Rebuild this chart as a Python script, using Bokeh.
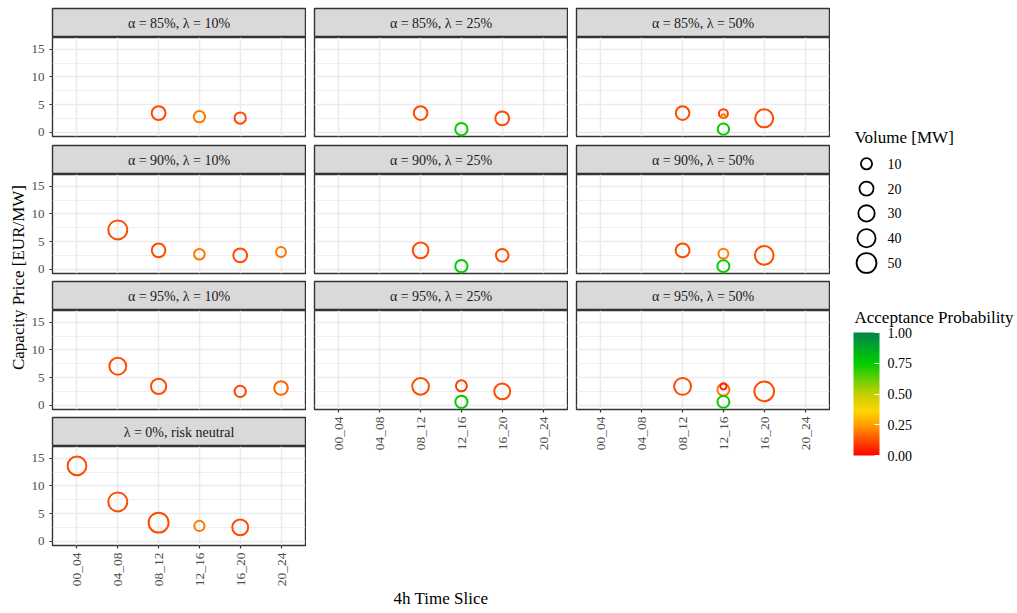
import math
import numpy as np
from bokeh.plotting import figure
from bokeh.layouts import row, column
from bokeh.models import (Range1d, FixedTicker, Label, Grid, ColumnDataSource,
                          LinearColorMapper, ColorBar, PrintfTickFormatter)
from bokeh.transform import linear_cmap
from bokeh.embed import file_html
from bokeh.resources import INLINE
from bokeh.core.properties import value

# ---------------- data ----------------
time_slices = ["00_04", "04_08", "08_12", "12_16", "16_20", "20_24"]
facet_labels = ["α = 85%, λ = 10%", "α = 85%, λ = 25%", "α = 85%, λ = 50%",
                "α = 90%, λ = 10%", "α = 90%, λ = 25%", "α = 90%, λ = 50%",
                "α = 95%, λ = 10%", "α = 95%, λ = 25%", "α = 95%, λ = 50%",
                "λ = 0%, risk neutral"]

bid_facet = [0, 0, 0,
             1, 1, 1,
             2, 2, 2, 2, 2,
             3, 3, 3, 3, 3,
             4, 4, 4,
             5, 5, 5, 5,
             6, 6, 6, 6,
             7, 7, 7, 7,
             8, 8, 8, 8, 8,
             9, 9, 9, 9, 9]
bid_slice = ["08_12", "12_16", "16_20",
             "08_12", "12_16", "16_20",
             "08_12", "12_16", "12_16", "12_16", "16_20",
             "04_08", "08_12", "12_16", "16_20", "20_24",
             "08_12", "12_16", "16_20",
             "08_12", "12_16", "12_16", "16_20",
             "04_08", "08_12", "16_20", "20_24",
             "08_12", "12_16", "12_16", "16_20",
             "08_12", "12_16", "12_16", "12_16", "16_20",
             "00_04", "04_08", "08_12", "12_16", "16_20"]
bid_price = [3.45, 2.8, 2.55,
             3.45, 0.55, 2.5,
             3.45, 3.35, 2.9, 0.55, 2.5,
             7.1, 3.4, 2.7, 2.5, 3.1,
             3.4, 0.55, 2.5,
             3.4, 2.8, 0.55, 2.5,
             7.05, 3.4, 2.5, 3.1,
             3.4, 3.5, 0.6, 2.5,
             3.4, 2.8, 3.4, 0.6, 2.5,
             13.6, 7.1, 3.35, 2.75, 2.5]
bid_volume = [20, 11, 11,
              19, 14, 20,
              19, 5, 0, 11, 40,
              46, 19, 9, 20, 7,
              28, 14, 15,
              20, 7, 13, 44,
              34, 26, 11, 19,
              33, 10, 14, 29,
              34, 13, 1, 13, 50,
              44, 46, 52, 8, 29]
bid_prob = [0.12, 0.19, 0.12,
            0.12, 0.74, 0.12,
            0.12, 0.10, 0.19, 0.74, 0.12,
            0.12, 0.12, 0.19, 0.12, 0.18,
            0.12, 0.74, 0.12,
            0.12, 0.19, 0.74, 0.12,
            0.12, 0.12, 0.11, 0.16,
            0.12, 0.10, 0.74, 0.12,
            0.12, 0.18, 0.07, 0.74, 0.12,
            0.12, 0.12, 0.12, 0.19, 0.12]

price_ticks = [0, 5, 10, 15]
price_minor = [2.5, 7.5, 12.5]
volume_breaks = [10, 20, 30, 40, 50]
prob_breaks = [0.0, 0.25, 0.5, 0.75, 1.0]

# ---------------- style ----------------
SERIF = "Liberation Serif"
FRAME_W, FRAME_H, STRIP_H = 253, 99, 29
AXIS_BOTTOM = 44
YLAB_W = 27
LEFT1 = 25
TOTAL_H = 8 + STRIP_H + (FRAME_H + 8) + 3 * (1 + STRIP_H) + FRAME_H + 7 + FRAME_H + 7 + FRAME_H + AXIS_BOTTOM
LEG_W = 187

stops_pos = [0.0, 0.25, 0.36, 0.5, 0.75, 1.0]
stops_hex = ["#FF0000", "#FFA000", "#FFD500", "#C5CF00", "#00CD00", "#00864B"]


def hex2rgb(h):
    return [int(h[i:i + 2], 16) for i in (1, 3, 5)]


_g = np.linspace(0, 1, 256)
_rgb = np.array([hex2rgb(h) for h in stops_hex], dtype=float)
_ch = [np.interp(_g, stops_pos, _rgb[:, k]) for k in range(3)]
palette = ["#%02X%02X%02X" % (int(round(_ch[0][i])), int(round(_ch[1][i])), int(round(_ch[2][i])))
           for i in range(256)]
mapper = LinearColorMapper(palette=palette, low=0, high=1)


def size_scale(v, lw):
    # outer diameter in px grows with sqrt(volume); bokeh size is at line centre
    return 5.97 + 2.22 * np.sqrt(np.asarray(v, dtype=float)) - lw


def make_strip(label, left, top):
    s = figure(frame_width=FRAME_W, frame_height=STRIP_H, x_range=(0, 1), y_range=(0, 1),
               x_axis_type=None, y_axis_type=None, toolbar_location=None,
               output_backend="svg", min_border_left=left, min_border_right=1,
               min_border_top=top, min_border_bottom=0)
    s.background_fill_color = "#D9D9D9"
    s.outline_line_color = "#333333"
    s.outline_line_width = 1.4
    s.add_layout(Label(x=0.5, y=0.5, text=label, text_align="center", text_baseline="middle",
                       text_font=SERIF, text_font_size="14px", text_color="#1A1A1A"))
    return s


def make_panel(k, left, bottom, show_x, show_y):
    p = figure(frame_width=FRAME_W, frame_height=FRAME_H,
               x_range=Range1d(0.4, len(time_slices) + 0.6), y_range=Range1d(-0.78, 17.11),
               x_axis_type="linear" if show_x else None,
               y_axis_type="linear" if show_y else None,
               toolbar_location=None, output_backend="svg",
               min_border_left=left, min_border_right=1, min_border_top=0,
               min_border_bottom=bottom)
    p.background_fill_color = "white"
    p.outline_line_color = "#333333"
    p.outline_line_width = 1.4
    for g in p.grid:
        g.visible = False
    xt = FixedTicker(ticks=list(range(1, len(time_slices) + 1)))
    yt = FixedTicker(ticks=price_ticks, minor_ticks=price_minor)
    p.add_layout(Grid(dimension=0, ticker=xt, grid_line_color="#EBEBEB", grid_line_width=1.5))
    p.add_layout(Grid(dimension=1, ticker=yt, grid_line_color="#EBEBEB", grid_line_width=1.5,
                      minor_grid_line_color="#EBEBEB", minor_grid_line_width=0.8))
    axes = []
    if show_y:
        p.yaxis[0].ticker = yt
        p.yaxis[0].major_label_text_font_size = "13px"
        axes.append(p.yaxis[0])
    if show_x:
        ax = p.xaxis[0]
        ax.ticker = xt
        ax.major_label_overrides = {i + 1: s for i, s in enumerate(time_slices)}
        ax.major_label_orientation = math.pi / 2
        ax.major_label_text_font_size = "13.5px"
        axes.append(ax)
    for ax in axes:
        ax.major_label_text_font = SERIF
        ax.major_label_text_color = "#4D4D4D"
        ax.axis_line_color = None
        ax.major_tick_line_color = "#333333"
        ax.major_tick_line_width = 1.2
        ax.major_tick_out = 3
        ax.major_tick_in = 0
        ax.minor_tick_line_color = None
        ax.major_label_standoff = 4
    idx = [i for i, f in enumerate(bid_facet) if f == k]
    src = ColumnDataSource(dict(
        x=[time_slices.index(bid_slice[i]) + 1 for i in idx],
        y=[bid_price[i] for i in idx],
        size=list(size_scale([bid_volume[i] for i in idx], 2.0)),
        prob=[bid_prob[i] for i in idx],
    ))
    p.scatter("x", "y", source=src, marker="circle", size="size", fill_color=None,
              line_color=linear_cmap("prob", palette, 0, 1), line_width=2.0)
    return p


def facet_column(ks, left, axis_row):
    kids = []
    gaps = [8, 7, 7, 7]
    for r, k in enumerate(ks):
        kids.append(make_strip(facet_labels[k], left, 8 if r == 0 else 1))
        last = (r == axis_row)
        kids.append(make_panel(k, left, AXIS_BOTTOM if last else gaps[r], last, left == LEFT1))
    return column(*kids, spacing=0)


col1 = facet_column([0, 3, 6, 9], LEFT1, 3)
col2 = facet_column([1, 4, 7], 8, 2)
col3 = facet_column([2, 5, 8], 8, 2)


def blank(w, h):
    f = figure(width=w, height=h, x_range=(0, w), y_range=(0, h), x_axis_type=None,
               y_axis_type=None, toolbar_location=None, output_backend="svg", min_border=0)
    f.outline_line_color = None
    return f


# y-axis title
ylab = blank(YLAB_W, TOTAL_H)
ylab.add_layout(Label(x=18, y=TOTAL_H - 277, text="Capacity Price [EUR/MW]", angle=math.pi / 2,
                      text_align="center", text_baseline="middle", text_font=SERIF,
                      text_font_size="17px", text_color="black"))

# legends (legend figure starts at x = 830)
leg = blank(LEG_W, TOTAL_H)
leg.add_layout(Label(x=24, y=TOTAL_H - 137, text="Volume [MW]", text_align="left",
                     text_baseline="middle", text_font=SERIF, text_font_size="17px",
                     text_color="black"))
key_y = [TOTAL_H - (163.3 + i * 24.8) for i in range(len(volume_breaks))]
leg.scatter(x=[36] * len(volume_breaks), y=key_y, size=list(size_scale(volume_breaks, 1.8)),
            marker="circle", fill_color=None, line_color="black", line_width=1.8)
leg.text(x=[57] * len(volume_breaks), y=key_y, text=[str(v) for v in volume_breaks],
         text_font=value(SERIF), text_font_size="14px", text_baseline="middle",
         text_align="left", text_color="black")

leg.add_layout(Label(x=24, y=TOTAL_H - 316.7, text="Acceptance Probability", text_align="left",
                     text_baseline="middle", text_font=SERIF, text_font_size="17px",
                     text_color="black"))
cb = ColorBar(color_mapper=mapper, width=26, height=123, orientation="vertical",
              ticker=FixedTicker(ticks=prob_breaks), formatter=PrintfTickFormatter(format="%.2f"),
              major_label_text_font=SERIF, major_label_text_font_size="14px",
              major_label_text_color="black", label_standoff=8,
              major_tick_line_color="white", major_tick_in=5, major_tick_out=0,
              minor_tick_line_color=None, bar_line_color=None, border_line_color=None,
              background_fill_alpha=0, padding=0, margin=0,
              location=(23, TOTAL_H - 455))
leg.add_layout(cb)

# x-axis title
xlab = blank(YLAB_W + 279 + 262 + 262 + LEG_W, 20)
xlab.add_layout(Label(x=440.5, y=11, text="4h Time Slice", text_align="center",
                      text_baseline="middle", text_font=SERIF, text_font_size="17px",
                      text_color="black"))

layout = column(row(ylab, col1, col2, col3, leg, spacing=0), xlab, spacing=0)

open("out.html", "w").write(file_html(layout, INLINE))
